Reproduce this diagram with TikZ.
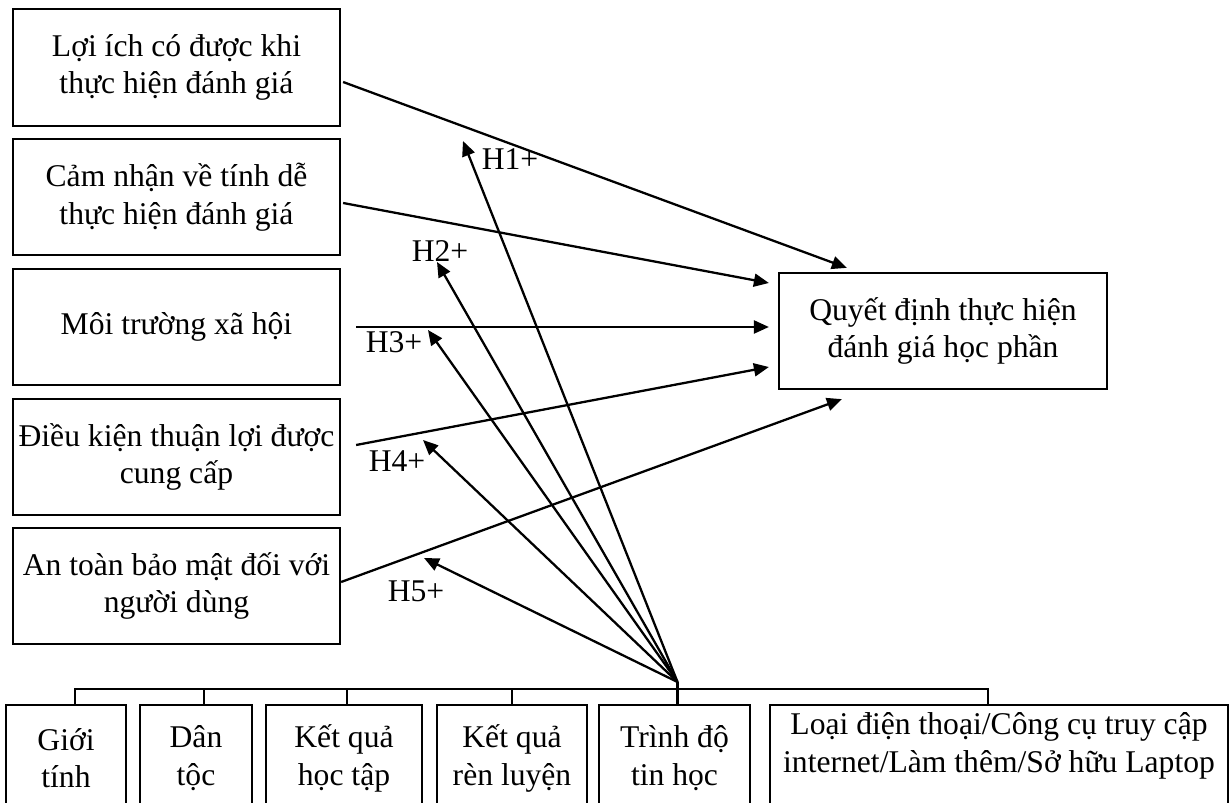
\documentclass[tikz,border=0pt]{standalone}
\usepackage{fontspec}
\setmainfont{Liberation Serif}
\usetikzlibrary{arrows.meta,calc}
\begin{document}
\begin{tikzpicture}[x=0.02cm, y=-0.02cm, line width=1.3pt,
    every node/.style={font=\fontsize{18}{21.5}\selectfont},
    factor/.style={shape=rectangle, draw=black, align=center, inner sep=0pt, minimum width=6.54cm, minimum height=2.33cm},
    control/.style={shape=rectangle, draw=black, align=center, inner sep=0pt, anchor=north, minimum height=2.12cm},
    hypo/.style={-{Triangle[length=0.3cm,width=0.26cm]}}]
    \useasboundingbox (0,0) rectangle (1230,803);
    \clip (0,0) rectangle (1230,803);
    % factors
    \node[factor] (F1) at (176.5,67.5) {Lợi ích có được khi\\thực hiện đánh giá};
    \node[factor] (F2) at (176.5,197) {Cảm nhận về tính dễ\\thực hiện đánh giá};
    \node[factor] (F3) at (176.5,327) {Môi trường xã hội};
    \node[factor] (F4) at (176.5,457) {Điều kiện thuận lợi được\\cung cấp};
    \node[factor] (F5) at (176.5,586) {An toàn bảo mật đối với\\người dùng};
    \node[factor, minimum width=6.56cm, minimum height=2.32cm] (Q) at (943,331) {Quyết định thực hiện\\đánh giá học phần};
    % control variables
    \node[control, minimum width=2.4cm] (C1) at (66,704) {Giới\\tính};
    \node[control, minimum width=2.24cm] (C2) at (196,704) {Dân\\tộc};
    \node[control, minimum width=3.12cm] (C3) at (344,704) {Kết quả\\học tập};
    \node[control, minimum width=3.0cm] (C4) at (512,704) {Kết quả\\rèn luyện};
    \node[control, minimum width=3.02cm] (C5) at (674.5,704) {Trình độ\\tin học};
    \node[control, minimum width=9.16cm] (C6) at (999,704) {Loại điện thoại/Công cụ truy cập\\internet/Làm thêm/Sở hữu Laptop\\[-3.5pt]\mbox{}};
    \coordinate (hub) at (677.5,682);
    \draw ($(C1.north)+(9,0)$) -- ++(0,-15) -| ($(C6.north)+(-11,0)$);
    \foreach \n/\dx in {C2/8, C3/3, C4/0}
        \draw ($(\n.north)+(\dx,0)$) -- ++(0,-15);
    \draw ($(C5.north)+(3,0)$) -- (hub);
    % paths to the decision
    \path [hypo] ($(F1.east)+(2,14.5)$) edge ($(Q.north west)+(69,-4)$);
    \path [hypo] ($(F2.east)+(2,6)$) edge ($(Q.west)+(-9,-48)$);
    \path [hypo] ($(F3.east)+(15,0)$) edge ($(Q.west)+(-9,-4)$);
    \path [hypo] ($(F4.east)+(15,-12)$) edge ($(Q.west)+(-9,36)$);
    \path [hypo] ($(F5.east)+(0,-4)$) edge ($(Q.south west)+(64,9)$);
    % hypotheses
    \coordinate (T1) at (463,141);
    \coordinate (T2) at (437,262);
    \coordinate (T3) at (428,330);
    \coordinate (T4) at (423,440);
    \coordinate (T5) at (424,558);
    \path [hypo] (hub) edge (T1);
    \path [hypo] (hub) edge (T2);
    \path [hypo] (hub) edge (T3);
    \path [hypo] (hub) edge (T4);
    \path [hypo] (hub) edge (T5);
    \node (H1) at (510,159) {H1+};
    \node (H2) at (440,251) {H2+};
    \node (H3) at (394,342) {H3+};
    \node (H4) at (397,461) {H4+};
    \node (H5) at (416,591) {H5+};
\end{tikzpicture}
\end{document}
